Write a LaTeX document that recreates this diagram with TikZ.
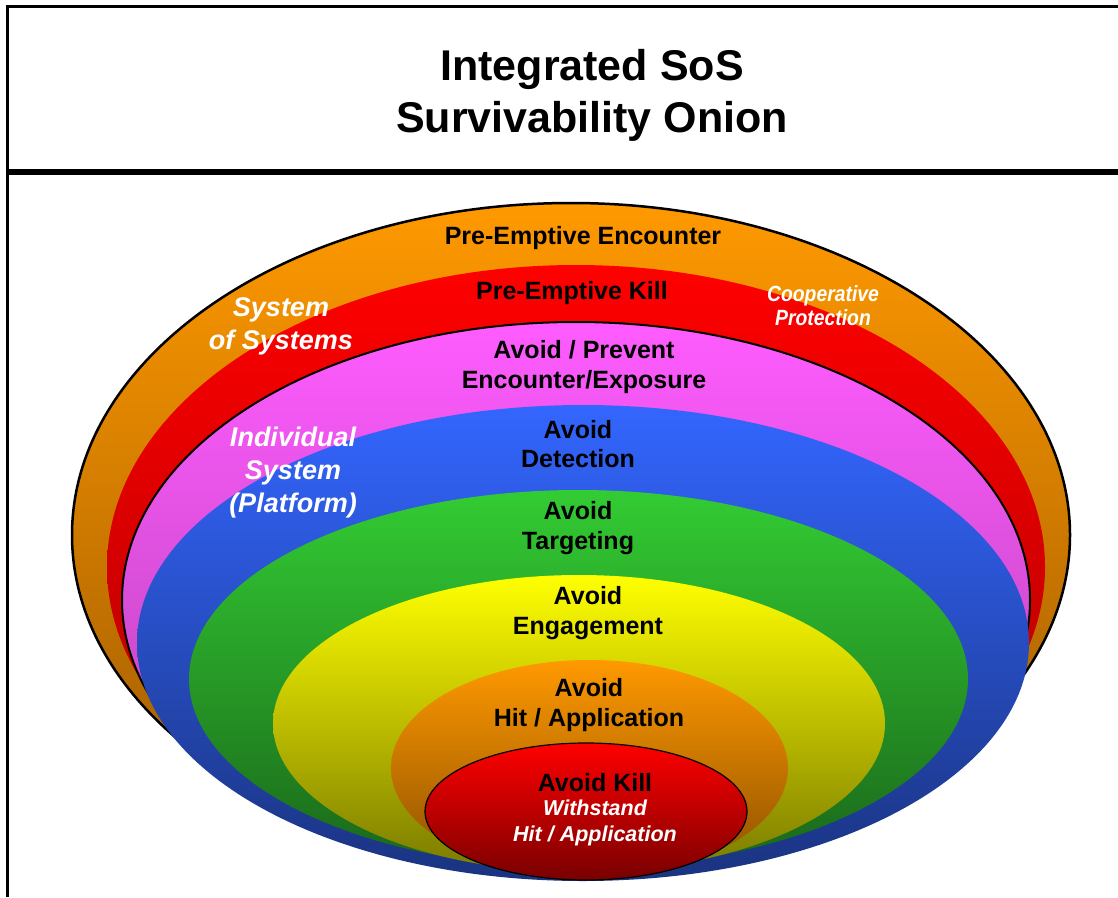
\documentclass[tikz,border=0pt]{standalone}
\usepackage{fontspec}
\setmainfont{Liberation Sans}
\newfontfamily\narrowsans[FakeStretch=0.88]{Liberation Sans}

\definecolor{ringorange}{HTML}{FF9900}
\definecolor{ringorangedk}{HTML}{9A5800}
\definecolor{ringred}{HTML}{FF0000}
\definecolor{ringreddk}{HTML}{A80000}
\definecolor{ringpink}{HTML}{FF5CFF}
\definecolor{ringpinkdk}{HTML}{B040B0}
\definecolor{ringblue}{HTML}{3366FF}
\definecolor{ringbluedk}{HTML}{1A3380}
\definecolor{ringgreen}{HTML}{33CC33}
\definecolor{ringgreendk}{HTML}{1A661A}
\definecolor{ringyellow}{HTML}{FFFF00}
\definecolor{ringyellowdk}{HTML}{7A7A00}
\definecolor{coreorangedk}{HTML}{8A4E00}
\definecolor{coreredk}{HTML}{780000}

\tikzset{
  ring/.style 2 args={top color=#1, middle color=#1!94!#2, bottom color=#2},
  lbl/.style={font=\bfseries\fontsize{25}{29.5}\selectfont, align=center},
  wlbl/.style={text=white, font=\bfseries\itshape\fontsize{21.5}{26}\selectfont, align=center},
  sos/.style={text=white, font=\bfseries\itshape\fontsize{27}{33}\selectfont, align=center},
  coop/.style={text=white, font=\narrowsans\bfseries\itshape\fontsize{22}{24}\selectfont, align=center},
}

\begin{document}
\begin{tikzpicture}[x=1pt,y=-1pt]
    \useasboundingbox (0,0) rectangle (1118,897);

    \draw[line width=3pt](7,897)--(7,6)--(1118,6);
    \draw[line width=6pt](7,172)--(1118,172);
    \node[font=\bfseries\fontsize{43}{52}\selectfont, align=center] (title) at (592,95)
        {Integrated SoS\\Survivability Onion};

    \shadedraw[ring={ringorange}{ringorangedk}, line width=2.5pt](571,535) ellipse[x radius=499pt, y radius=332pt];
    \shade[ring={ringred}{ringreddk}](576,567) ellipse[x radius=469pt, y radius=302pt];
    \shadedraw[ring={ringpink}{ringpinkdk}, line width=2pt](576,600) ellipse[x radius=454pt, y radius=278pt];
    \shade[ring={ringblue}{ringbluedk}](583,643) ellipse[x radius=446pt, y radius=238pt];
    \shade[ring={ringgreen}{ringgreendk}](578.5,679) ellipse[x radius=389.5pt, y radius=189pt];
    \shade[ring={ringyellow}{ringyellowdk}](579,723.5) ellipse[x radius=306pt, y radius=148.5pt];
    \shade[ring={ringorange}{coreorangedk}](589.5,768) ellipse[x radius=198.5pt, y radius=108pt];
    \shadedraw[ring={ringred}{coreredk}, line width=1.2pt](586,811.5) ellipse[x radius=161pt, y radius=68.5pt];

    \node[lbl] (encounter) at (583,238) {Pre-Emptive Encounter};
    \node[lbl] (prekill) at (572,293) {Pre-Emptive Kill};
    \node[lbl] (prevent) at (584,367) {Avoid / Prevent\\Encounter/Exposure};
    \node[lbl] (detect) at (578,444) {Avoid\\Detection};
    \node[lbl] (target) at (578,528) {Avoid\\Targeting};
    \node[lbl] (engage) at (588,613) {Avoid\\Engagement};
    \node[lbl] (hit) at (589,705) {Avoid\\Hit / Application};
    \node[lbl] (kill) at (595,783) {Avoid Kill};
    \node[wlbl] (withstand) at (595,823) {Withstand\\Hit / Application};

    \node[sos] (sos) at (281,326) {System\\of Systems};
    \node[sos] (platform) at (293,473) {Individual\\System\\(Platform)};
    \node[coop] (coop) at (823,306) {Cooperative\\Protection};
\end{tikzpicture}
\end{document}
